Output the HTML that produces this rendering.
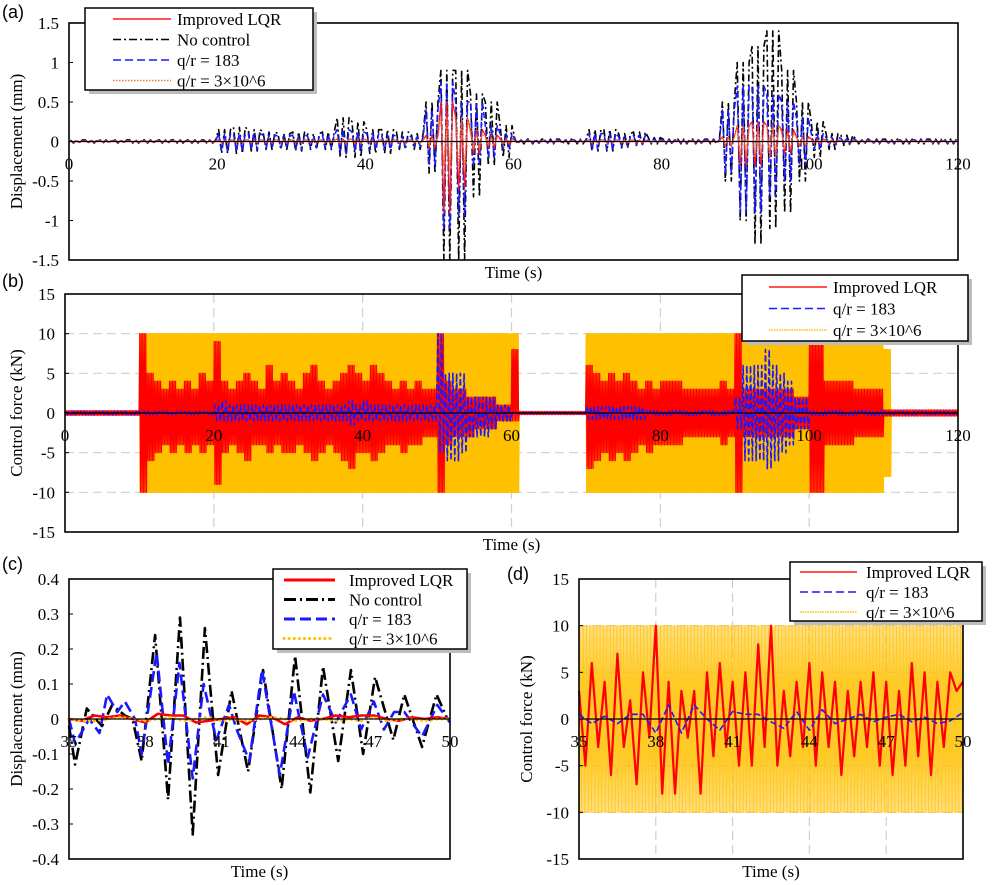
<!DOCTYPE html>
<html><head><meta charset="utf-8">
<style>
html,body{margin:0;padding:0;background:#fff;}
svg{display:block;font-family:"Liberation Serif",serif;}
.tk{font-size:17px;fill:#000;}
.pl{font-family:"Liberation Sans",sans-serif;font-size:18px;fill:#000;}
.lg{font-size:17px;fill:#000;}
</style></head>
<body>
<svg id="fig" width="992" height="885" viewBox="0 0 992 885" xmlns="http://www.w3.org/2000/svg"></svg>
<script>
// ===== Panel (a) data: per-2s-bin peak envelopes (0..120 s) =====
const aBinW = 2;
const aBlackUp = [.02,.02,.02,.02,.02,.02,.02,.02,.02,.02, .15,.18,.15,.12,.1,.12,.1,.12,.3,.25, .15,.15,.12,.1,.5,.9,.9,.6,.5,.2, .03,.03,.03,.03,.03,.15,.15,.1,.12,.05, .03,.03,.03,.03,.5,1.0,1.2,1.4,.9,.5, .25,.1,.08,.03,.03,.03,.03,.03,.03,.03];
const aBlackDn = [-.02,-.02,-.02,-.02,-.02,-.02,-.02,-.02,-.02,-.02, -.15,-.15,-.12,-.1,-.1,-.12,-.1,-.1,-.2,-.2, -.15,-.15,-.1,-.1,-.4,-1.5,-1.5,-.7,-.3,-.2, -.03,-.03,-.03,-.03,-.03,-.12,-.12,-.08,-.05,-.03, -.03,-.03,-.03,-.03,-.5,-1.0,-1.3,-1.1,-.9,-.5, -.2,-.1,-.05,-.03,-.03,-.03,-.03,-.03,-.03,-.03];
const aBlueUp = [.01,.01,.01,.01,.01,.01,.01,.01,.01,.01, .1,.1,.1,.08,.07,.08,.07,.08,.15,.12, .1,.08,.07,.06,.4,.75,.5,.5,.2,.1, .02,.02,.02,.02,.02,.1,.1,.06,.08,.03, .02,.02,.02,.02,.4,.7,.7,.6,.5,.3, .1,.05,.04,.02,.02,.02,.02,.02,.02,.02];
const aBlueDn = [-.01,-.01,-.01,-.01,-.01,-.01,-.01,-.01,-.01,-.01, -.12,-.12,-.1,-.08,-.08,-.1,-.08,-.08,-.15,-.12, -.1,-.1,-.07,-.06,-.3,-1.1,-.95,-.3,-.2,-.1, -.02,-.02,-.02,-.02,-.02,-.1,-.1,-.06,-.04,-.02, -.02,-.02,-.02,-.02,-.4,-.9,-.9,-.7,-.5,-.3, -.1,-.05,-.03,-.02,-.02,-.02,-.02,-.02,-.02,-.02];
const aRedUp = [.01,.01,.01,.01,.01,.01,.01,.01,.01,.01, .02,.02,.02,.02,.02,.02,.02,.02,.03,.03, .02,.02,.02,.02,.08,.5,.3,.15,.08,.04, .01,.01,.01,.01,.01,.02,.02,.02,.02,.01, .01,.01,.01,.01,.06,.2,.25,.2,.15,.06, .03,.02,.01,.01,.01,.01,.01,.01,.01,.01];
const aRedDn = [-.01,-.01,-.01,-.01,-.01,-.01,-.01,-.01,-.01,-.01, -.02,-.02,-.02,-.02,-.02,-.02,-.02,-.02,-.03,-.03, -.02,-.02,-.02,-.02,-.08,-.9,-.6,-.15,-.08,-.04, -.01,-.01,-.01,-.01,-.01,-.02,-.02,-.02,-.02,-.01, -.01,-.01,-.01,-.01,-.06,-.3,-.3,-.2,-.15,-.06, -.03,-.02,-.01,-.01,-.01,-.01,-.01,-.01,-.01,-.01];
const aOrgUp = [.005,.005,.005,.005,.005,.005,.005,.005,.005,.005, .02,.02,.02,.02,.02,.02,.02,.02,.03,.03, .02,.02,.02,.02,.05,.3,.3,.1,.05,.02, .005,.005,.005,.005,.005,.02,.02,.02,.02,.01, .005,.005,.005,.005,.05,.2,.2,.2,.1,.05, .02,.01,.01,.005,.005,.005,.005,.005,.005,.005];
const aOrgDn = aOrgUp.map(v => -v);
const aXTicks = [0,20,40,60,80,100,120];
const aYTicks = [1.5,1,0.5,0,-0.5,-1,-1.5];

// ===== Panel (b) data: per-1s-bin envelopes (0..120 s) =====
const bBinW = 1;
const bYelUp = [0,0,0,0,0,0,0,0,0,0, 10,10,10,10,10,10,10,10,10,10, 10,10,10,10,10,10,10,10,10,10, 10,10,10,10,10,10,10,10,10,10, 10,10,10,10,10,10,10,10,10,10, 10,10,10,10,10,10,10,10,10,10, 10,0,0,0,0,0,0,0,0,0, 10,10,10,10,10,10,10,10,10,10, 10,10,10,10,10,10,10,10,10,10, 10,10,10,10,10,10,10,10,10,10, 10,10,10,10,10,10,10,10,10,10, 8,0,0,0,0,0,0,0,0,0];
const bYelDn = bYelUp.map(v => -v);
const bRedUp = [.3,.3,.3,.3,.3,.3,.3,.3,.3,.3, 10,5,4,3,4,3,4,3,5,4, 9,4,3,4,5,4,3,6,4,5, 4,3,5,6,4,3,4,5,6,5, 4,6,5,4,3,4,3,4,3,3, 10,4,3,3,2,2,2,2,1,1, 8,.2,.2,.2,.2,.2,.2,.2,.2,.2, 6,5,4,5,4,5,4,3,4,3, 4,4,4,3,3,3,3,3,4,3, 10,3,3,3,3,3,3,3,2,2, 10,10,4,4,4,4,3,3,3,3, .4,.4,.4,.4,.4,.4,.4,.4,.4,.4];
const bRedDn = [-.3,-.3,-.3,-.3,-.3,-.3,-.3,-.3,-.3,-.3, -10,-6,-5,-4,-5,-4,-5,-4,-5,-4, -9,-5,-4,-5,-6,-4,-4,-5,-4,-5, -5,-4,-5,-6,-5,-4,-5,-6,-7,-5, -5,-6,-5,-4,-4,-5,-4,-4,-3,-3, -10,-4,-3,-3,-3,-2,-2,-2,-1,-1, -1,-.2,-.2,-.2,-.2,-.2,-.2,-.2,-.2,-.2, -7,-6,-5,-6,-5,-6,-5,-4,-5,-4, -4,-4,-4,-3,-3,-3,-3,-3,-4,-3, -10,-3,-3,-3,-3,-3,-3,-3,-2,-2, -10,-10,-4,-4,-4,-4,-3,-3,-3,-3, -.4,-.4,-.4,-.4,-.4,-.4,-.4,-.4,-.4,-.4];
const bBlueUp = [.2,.2,.2,.2,.2,.2,.2,.2,.2,.2, .2,.2,.2,.2,.2,.2,.2,.2,.2,.2, 1,1.5,1,1,1,1,1,1,1,1, 1,1,1,1,1,1,1,1,1.5,1, 1.5,1,1,1,1,1,1,1,1,1, 10,5,5,5,2,2,2,2,1,1, .1,.1,.1,.1,.1,.1,.1,.1,.1,.1, .8,.8,.8,.8,.8,.8,.8,.8,.3,.3, .3,.3,.3,.3,.3,.3,.3,.3,.3,.3, 2,6,6,6,8,6,5,4,2,2, .3,.3,.3,.3,.3,.3,.3,.3,.3,.3, .2,.2,.2,.2,.2,.2,.2,.2,.2,.2];
const bBlueDn = [-.2,-.2,-.2,-.2,-.2,-.2,-.2,-.2,-.2,-.2, -.2,-.2,-.2,-.2,-.2,-.2,-.2,-.2,-.2,-.2, -1,-1,-1,-1,-1,-1,-1,-1,-1,-1, -1,-1,-1,-1,-1,-1,-1,-1,-1.5,-1, -1,-1,-1,-1,-1,-1,-1,-1,-1,-1, -5,-6,-6,-5,-3,-3,-3,-2,-1,-1, -.1,-.1,-.1,-.1,-.1,-.1,-.1,-.1,-.1,-.1, -.8,-.8,-.8,-.8,-.8,-.8,-.8,-.8,-.3,-.3, -.3,-.3,-.3,-.3,-.3,-.3,-.3,-.3,-.3,-.3, -2,-6,-6,-6,-7,-6,-5,-4,-2,-2, -.3,-.3,-.3,-.3,-.3,-.3,-.3,-.3,-.3,-.3, -.2,-.2,-.2,-.2,-.2,-.2,-.2,-.2,-.2,-.2];
const bXTicks = [0,20,40,60,80,100,120];
const bYTicks = [15,10,5,0,-5,-10,-15];

// ===== Panel (c) data: (time, value) samples =====
const cBlackT = [35,35.24,35.7,36.3,36.7,37.2,37.5,37.86,38.39,38.9,39.37,39.87,40.35,40.87,41.4,42.05,42.64,43.37,43.9,44.5,45.0,45.6,46.1,46.58,47.05,47.77,48.2,48.9,49.47,49.9];
const cBlackV = [-0.02,-0.13,0.03,-0.02,0.04,0.01,0.0,-0.12,0.24,-0.23,0.29,-0.33,0.26,-0.16,0.08,-0.15,0.14,-0.2,0.18,-0.21,0.15,-0.12,0.14,-0.1,0.12,-0.06,0.07,-0.08,0.07,0.0];
const cBlueT = [35,35.24,35.8,36.2,36.5,36.9,37.2,37.6,37.86,38.45,38.9,39.35,39.87,40.3,40.8,41.3,41.6,42.1,42.6,43.3,43.85,44.4,45.0,45.5,46.1,46.5,47.0,47.4,47.8,48.2,48.9,49.5,50];
const cBlueV = [0,-0.07,0.0,-0.04,0.07,0.02,0.05,0.0,-0.1,0.19,-0.13,0.16,-0.17,0.1,-0.06,0.04,-0.03,-0.12,0.14,-0.16,0.08,-0.11,0.07,-0.01,0.07,-0.03,0.05,-0.03,0.02,0.02,-0.05,0.04,-0.01];
const cRedT = [35,35.5,36,36.5,37,37.5,38,38.5,39,39.5,40,40.5,41,41.5,42,42.5,43,43.5,44,44.5,45,45.5,46,46.5,47,47.5,48,48.5,49,49.5,50];
const cRedV = [0,-0.005,0.01,0.005,0.01,0.0,-0.01,0.015,0.01,0.01,-0.01,-0.005,0.0,0.005,-0.015,0.01,0.005,-0.015,0.005,-0.005,0.0,0.01,0.005,0.01,0.01,0.0,-0.005,0.005,0.0,0.005,0.0];
const cYelV = [0,-0.005,-0.005,0.0,0.005,0.0,-0.005,0.0,0.005,-0.005,0.0,0.005,-0.005,0.0,-0.005,0.0,0.005,0.0,-0.005,0.0,0.0,-0.005,0.0,-0.005,0.005,-0.005,0.0,0.0,-0.005,0.0,0.0];
const cXTicks = [35,38,41,44,47,50];
const cYTicks = [0.4,0.3,0.2,0.1,0,-0.1,-0.2,-0.3,-0.4];

// ===== Panel (d) data =====
const dYelBinW = 1;
const dYelUp = [10,10,10,10,10,10,10,10,10,10,10,10,10,10,10];
const dYelDn = [-10,-10,-10,-10,-10,-10,-10,-10,-10,-10,-10,-10,-10,-10,-10];
const dRedStep = 0.25;
const dRedV = [3,-5,6,-3,4,-6,7,-3,2,-7,5,-2, 10,-8,4,-8,3,-2,3,-8,5,-4,6,-3, 4,-5,5,-5,8,-3,10,-5,3,-4,4,-3, 6,-5,5,-3,4,-6,3,-4,4,-3,5,-5, 4,-6,3,-5,6,-4,5,-6,4,-3,5,3,4];
const dBlueStep = 0.5;
const dBlueV = [0.5,-0.5,0.3,-0.5,0.5,0.5,-1.5,1.5,-1.5,1.5,0,-1.2,0.8,0.5,0.5,-0.3,-1,0.8,-1.2,1,-0.5,0,0.5,-0.3,0.2,0.5,-0.3,0.2,-0.5,-0.2,0.7];
const dXTicks = [35,38,41,44,47,50];
const dYTicks = [15,10,5,0,-5,-10,-15];

const NS = "http://www.w3.org/2000/svg";
const fig = document.getElementById('fig');
function mk(tag, attrs, parent){ const e=document.createElementNS(NS,tag); for(const k in attrs) e.setAttribute(k,attrs[k]); (parent||fig).appendChild(e); return e; }

function makePanel(p){
  const g = mk('g',{});
  
  
  p.g = g;
  p.sx = t => p.x0 + (t - p.xmin) / (p.xmax - p.xmin) * (p.x1 - p.x0);
  p.sy = v => p.y1 - (v - p.ymin) / (p.ymax - p.ymin) * (p.y1 - p.y0);
  return p;
}
function grid(p, xs, ys){
  const gg = mk('g',{}, p.g);
  
  
  xs.forEach(t => mk('line',{x1:p.sx(t),x2:p.sx(t),y1:p.y0,y2:p.y1,stroke:'#cfcfcf','stroke-width':1.2,'stroke-dasharray':'9,5'},gg));
  ys.forEach(v => mk('line',{x1:p.x0,x2:p.x1,y1:p.sy(v),y2:p.sy(v),stroke:'#cfcfcf','stroke-width':1.2,'stroke-dasharray':'9,5'},gg));
}
function envelope(p, binW, up, dn, nPts, style, name){
  let pts = [];
  for(let i=0;i<up.length;i++){
    for(let k=0;k<nPts;k++){
      const t = p.xmin + i*binW + (k+0.5)*binW/nPts;
      const v = (k%2===0) ? up[i] : dn[i];
      pts.push(p.sx(t).toFixed(2)+','+p.sy(v).toFixed(2));
    }
  }
  const e = mk('polyline', Object.assign({points:pts.join(' '),fill:'none','stroke-linejoin':'round'}, style), p.g);
  
  
}
function line(p, ts, vs, style, name){
  const pts = ts.map((t,i)=>p.sx(t).toFixed(2)+','+p.sy(vs[i]).toFixed(2));
  const e = mk('polyline', Object.assign({points:pts.join(' '),fill:'none','stroke-linejoin':'round'}, style), p.g);
  
  
}
function axes(p, xt, yt, xlab, ylab, ylabX, letter, lx, ly, fmt){
  const z = mk('line',{x1:p.x0,x2:p.x1,y1:p.sy(0),y2:p.sy(0),stroke:'#000','stroke-width':1.3}, p.g);
   
  const f = mk('rect',{x:p.x0,y:p.y0,width:p.x1-p.x0,height:p.y1-p.y0,fill:'none',stroke:'#000','stroke-width':1.6}, p.g);
   
  xt.forEach(t => {
    const e = mk('text',{x:p.sx(t),y:p.sy(0)+28,'text-anchor':'middle',class:'tk'},p.g); e.textContent = t;
     
  });
  yt.forEach(v => {
    mk('line',{x1:p.x0,x2:p.x0+4,y1:p.sy(v),y2:p.sy(v),stroke:'#000','stroke-width':1},p.g);
    const e = mk('text',{x:p.x0-10,y:p.sy(v)+6,'text-anchor':'end',class:'tk'},p.g); e.textContent = fmt ? fmt(v) : v;
     
  });
  const xl = mk('text',{x:(p.x0+p.x1)/2,y:p.y1+18,'text-anchor':'middle',class:'tk'},p.g); xl.textContent = xlab;
   
  const cy=(p.y0+p.y1)/2;
  const yl = mk('text',{x:ylabX,y:cy,'text-anchor':'middle',class:'tk',transform:`rotate(-90 ${ylabX} ${cy})`},p.g); yl.textContent = ylab;
   
  const pl = mk('text',{x:lx,y:ly,class:'pl'},p.g); pl.textContent = letter;
   
}
function legend(p, x, y, w, h, entries, sampleW, textX, rowH, firstY){
  const lg = mk('g',{}, p.g);
  
  
  mk('rect',{x:x+4,y:y+4,width:w,height:h,fill:'#bdbdbd'},lg);
  mk('rect',{x:x,y:y,width:w,height:h,fill:'#fff',stroke:'#000','stroke-width':1.5},lg);
  entries.forEach((en,i)=>{
    const ey = y + firstY + i*rowH;
    const eg = mk('g',{},lg);
    
    
    mk('line',Object.assign({x1:x+sampleW[0],x2:x+sampleW[1],y1:ey,y2:ey},en.style),eg);
    const t = mk('text',{x:x+textX,y:ey+6,class:'lg'},eg); t.textContent = en.label;
  });
}

// ---------- Panel (a) ----------
const A = makePanel({name:'panel-a-displacement',x0:69,x1:958,y0:23,y1:260,xmin:0,xmax:120,ymin:-1.5,ymax:1.5});
envelope(A,aBinW,aBlackUp,aBlackDn,5,{stroke:'#000','stroke-width':1.6,'stroke-dasharray':'7,3,2,3'},'series-no-control');
envelope(A,aBinW,aBlueUp,aBlueDn,5,{stroke:'#1a1aff','stroke-width':1.6,'stroke-dasharray':'6,3'},'series-qr-183');
envelope(A,aBinW,aRedUp,aRedDn,5,{stroke:'#ff1a1a','stroke-width':1.2},'series-improved-lqr');
envelope(A,aBinW,aOrgUp,aOrgDn,5,{stroke:'#e87a2a','stroke-width':1.2,'stroke-dasharray':'1.5,1.5'},'series-qr-3e6');
axes(A,aXTicks,aYTicks,'Time (s)','Displacement (mm)',22,'(a)',2,18);
legend(A,85,8,228,82,[
  {label:'Improved LQR',style:{stroke:'#ff1a1a','stroke-width':1.5}},
  {label:'No control',style:{stroke:'#000','stroke-width':1.5,'stroke-dasharray':'8,3,2,3'}},
  {label:'q/r = 183',style:{stroke:'#1a1aff','stroke-width':1.5,'stroke-dasharray':'8,4'}},
  {label:'q/r = 3×10^6',style:{stroke:'#e87a2a','stroke-width':1.5,'stroke-dasharray':'1.5,1.5'}}
],[28,86],92,20.5,11);

// ---------- Panel (b) ----------
const B = makePanel({name:'panel-b-control-force',x0:65,x1:958,y0:294,y1:532,xmin:0,xmax:120,ymin:-15,ymax:15});
grid(B,[20,40,60,80,100],[10,5,-5,-10]);
envelope(B,bBinW,bYelUp,bYelDn,16,{stroke:'#ffc000','stroke-width':1.2},'series-qr-3e6');
envelope(B,bBinW,bRedUp,bRedDn,10,{stroke:'#ff0000','stroke-width':1.2},'series-improved-lqr');
envelope(B,bBinW,bBlueUp,bBlueDn,4,{stroke:'#1a1aff','stroke-width':1.6,'stroke-dasharray':'6,3'},'series-qr-183');
axes(B,bXTicks,bYTicks,'Time (s)','Control force (kN)',22,'(b)',2,287);
legend(B,742,275,226,66,[
  {label:'Improved LQR',style:{stroke:'#ff1a1a','stroke-width':1.5}},
  {label:'q/r =  183',style:{stroke:'#1a1aff','stroke-width':1.5,'stroke-dasharray':'8,4'}},
  {label:'q/r = 3×10^6',style:{stroke:'#ffc000','stroke-width':1.5,'stroke-dasharray':'1.5,1'}}
],[27,85],91,21.5,12);

// ---------- Panel (c) ----------
const C = makePanel({name:'panel-c-displacement-zoom',x0:69,x1:450,y0:579,y1:859,xmin:35,xmax:50,ymin:-0.4,ymax:0.4});
line(C,cBlackT,cBlackV,{stroke:'#000','stroke-width':2.6,'stroke-dasharray':'12,4,2,4'},'series-no-control');
line(C,cBlueT,cBlueV,{stroke:'#1a1aff','stroke-width':2.6,'stroke-dasharray':'11,5'},'series-qr-183');
line(C,cRedT,cRedV,{stroke:'#ff0000','stroke-width':2.6},'series-improved-lqr');
line(C,cRedT,cYelV,{stroke:'#ffc000','stroke-width':3,'stroke-dasharray':'0.1,5','stroke-linecap':'round'},'series-qr-3e6');
axes(C,cXTicks,cYTicks,'Time (s)','Displacement (mm)',22,'(c)',2,570,v=>v.toFixed(1).replace(/^0\.0$/,'0').replace(/^-0\.0$/,'0'));
legend(C,273,569,194,80,[
  {label:'Improved LQR',style:{stroke:'#ff0000','stroke-width':3}},
  {label:'No control',style:{stroke:'#000','stroke-width':3,'stroke-dasharray':'12,4,2,4'}},
  {label:'q/r = 183',style:{stroke:'#1a1aff','stroke-width':3,'stroke-dasharray':'11,5'}},
  {label:'q/r = 3×10^6',style:{stroke:'#ffc000','stroke-width':3,'stroke-dasharray':'0.1,5','stroke-linecap':'round'}}
],[11,62],76,19.5,11);

// ---------- Panel (d) ----------
const D = makePanel({name:'panel-d-control-force-zoom',x0:579,x1:963,y0:579,y1:859,xmin:35,xmax:50,ymin:-15,ymax:15});
grid(D,[38,41,44,47],[10,5,-5,-10]);
envelope(D,dYelBinW,dYelUp,dYelDn,36,{stroke:'#ffc000','stroke-width':1,'stroke-opacity':0.85},'series-qr-3e6');
line(D,dRedV.map((v,i)=>35+i*dRedStep),dRedV,{stroke:'#ff0000','stroke-width':2.2},'series-improved-lqr');
line(D,dBlueV.map((v,i)=>35+i*dBlueStep),dBlueV,{stroke:'#1a1aff','stroke-width':1.6,'stroke-dasharray':'6,3'},'series-qr-183');
axes(D,dXTicks,dYTicks,'Time (s)','Control force (kN)',532,'(d)',507,580);
legend(D,790,562,192,59,[
  {label:'Improved LQR',style:{stroke:'#ff1a1a','stroke-width':1.5}},
  {label:'q/r =  183',style:{stroke:'#1a1aff','stroke-width':1.5,'stroke-dasharray':'8,4'}},
  {label:'q/r = 3×10^6',style:{stroke:'#ffc000','stroke-width':1.5,'stroke-dasharray':'1.5,1'}}
],[10,67],76,20,10);
</script>
</body></html>
